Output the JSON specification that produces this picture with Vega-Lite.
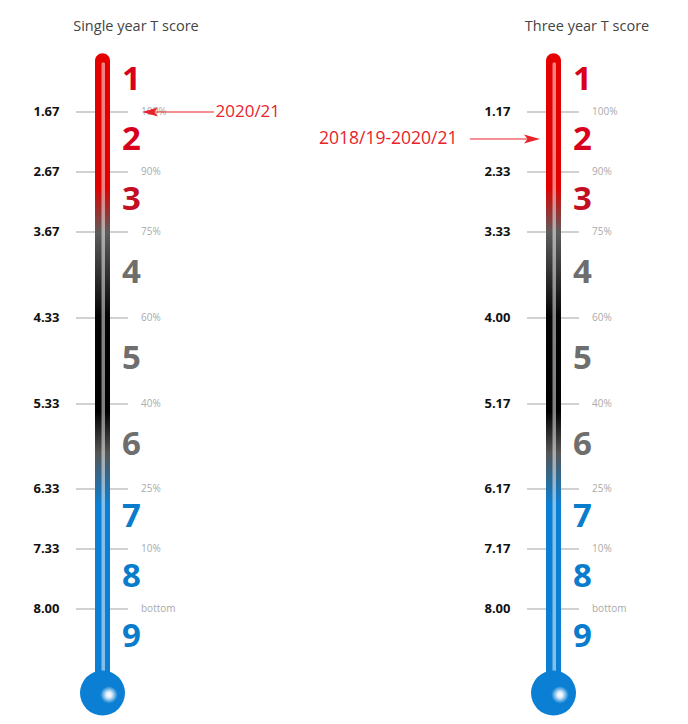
{
  "$schema": "https://vega.github.io/schema/vega-lite/v6.json",
  "padding": 0,
  "background": "white",
  "bounds": "flush",
  "config": {"view": {"stroke": null}, "font": "Open Sans"},
  "data": {"values": [
    {"panel": "single", "kind": "title", "label": "Single year T score"},
    {"panel": "three", "kind": "title", "label": "Three year T score"},
    {"panel": "single", "kind": "tube"},
    {"panel": "three", "kind": "tube"},
    {"panel": "single", "kind": "tick", "pos": 1.5, "score": "1.67", "pct": "100%"},
    {"panel": "single", "kind": "tick", "pos": 2.5, "score": "2.67", "pct": "90%"},
    {"panel": "single", "kind": "tick", "pos": 3.5, "score": "3.67", "pct": "75%"},
    {"panel": "single", "kind": "tick", "pos": 4.5, "score": "4.33", "pct": "60%"},
    {"panel": "single", "kind": "tick", "pos": 5.5, "score": "5.33", "pct": "40%"},
    {"panel": "single", "kind": "tick", "pos": 6.5, "score": "6.33", "pct": "25%"},
    {"panel": "single", "kind": "tick", "pos": 7.5, "score": "7.33", "pct": "10%"},
    {"panel": "single", "kind": "tick", "pos": 8.5, "score": "8.00", "pct": "bottom"},
    {"panel": "three", "kind": "tick", "pos": 1.5, "score": "1.17", "pct": "100%"},
    {"panel": "three", "kind": "tick", "pos": 2.5, "score": "2.33", "pct": "90%"},
    {"panel": "three", "kind": "tick", "pos": 3.5, "score": "3.33", "pct": "75%"},
    {"panel": "three", "kind": "tick", "pos": 4.5, "score": "4.00", "pct": "60%"},
    {"panel": "three", "kind": "tick", "pos": 5.5, "score": "5.17", "pct": "40%"},
    {"panel": "three", "kind": "tick", "pos": 6.5, "score": "6.17", "pct": "25%"},
    {"panel": "three", "kind": "tick", "pos": 7.5, "score": "7.17", "pct": "10%"},
    {"panel": "three", "kind": "tick", "pos": 8.5, "score": "8.00", "pct": "bottom"},
    {"panel": "single", "kind": "band", "stanine": 1},
    {"panel": "single", "kind": "band", "stanine": 2},
    {"panel": "single", "kind": "band", "stanine": 3},
    {"panel": "single", "kind": "band", "stanine": 4},
    {"panel": "single", "kind": "band", "stanine": 5},
    {"panel": "single", "kind": "band", "stanine": 6},
    {"panel": "single", "kind": "band", "stanine": 7},
    {"panel": "single", "kind": "band", "stanine": 8},
    {"panel": "single", "kind": "band", "stanine": 9},
    {"panel": "three", "kind": "band", "stanine": 1},
    {"panel": "three", "kind": "band", "stanine": 2},
    {"panel": "three", "kind": "band", "stanine": 3},
    {"panel": "three", "kind": "band", "stanine": 4},
    {"panel": "three", "kind": "band", "stanine": 5},
    {"panel": "three", "kind": "band", "stanine": 6},
    {"panel": "three", "kind": "band", "stanine": 7},
    {"panel": "three", "kind": "band", "stanine": 8},
    {"panel": "three", "kind": "band", "stanine": 9},
    {"panel": "single", "kind": "marker", "label": "2020/21", "pos": 1.5, "dir": "left"},
    {"panel": "three", "kind": "marker", "label": "2018/19-2020/21", "pos": 1.95, "dir": "right"}
  ]},
  "facet": {"column": {"field": "panel", "type": "nominal", "sort": ["single", "three"], "header": {"labels": false, "title": null, "labelPadding": 0, "titlePadding": 0}}},
  "spacing": {"column": 216},
  "spec": {
    "width": 235,
    "height": 724,
    "layer": [
      {
        "transform": [{"filter": "datum.kind === 'tick'"}],
        "mark": {"type": "rule", "color": "#a3a3a3", "strokeWidth": 1.2},
        "encoding": {
          "x": {"datum": -26.5, "type": "quantitative", "scale": {"domain": [-102.5, 132.5], "nice": false, "zero": false}, "axis": null},
          "x2": {"datum": 25.5},
          "y": {"field": "pos", "type": "quantitative", "scale": {"domain": [1.5, 2.5, 3.5, 4.5, 5.5, 6.5, 7.5, 8.5], "range": [112, 172, 232, 318, 404, 489, 549, 609], "nice": false, "zero": false}, "axis": null}
        }
      },
      {
        "transform": [{"filter": "datum.kind === 'tube'"}],
        "mark": {"type": "rect", "cornerRadius": 7.5, "fill": {"gradient": "linear", "x1": 0, "y1": 0, "x2": 0, "y2": 1, "stops": [
          {"offset": 0, "color": "#e50000"},
          {"offset": 0.21, "color": "#e00000"},
          {"offset": 0.28, "color": "#5c5c5c"},
          {"offset": 0.41, "color": "#050505"},
          {"offset": 0.56, "color": "#000000"},
          {"offset": 0.625, "color": "#555555"},
          {"offset": 0.705, "color": "#0b7fd3"},
          {"offset": 1, "color": "#0b7fd3"}
        ]}},
        "encoding": {
          "x": {"datum": -7.5, "type": "quantitative"},
          "x2": {"datum": 7.5},
          "y": {"datum": 0.52, "type": "quantitative"},
          "y2": {"datum": 9.9}
        }
      },
      {
        "transform": [{"filter": "datum.kind === 'tube'"}],
        "mark": {"type": "rect", "cornerRadius": 1.75, "fill": "white", "fillOpacity": 0.5},
        "encoding": {
          "x": {"datum": -1, "type": "quantitative"},
          "x2": {"datum": 2.5},
          "y": {"datum": 0.67, "type": "quantitative"},
          "y2": {"datum": 9.73}
        }
      },
      {
        "transform": [{"filter": "datum.kind === 'tube'"}],
        "mark": {"type": "point", "shape": "circle", "filled": true, "size": 2025, "fill": "#0b7fd3", "opacity": 1},
        "encoding": {
          "x": {"datum": 0, "type": "quantitative"},
          "y": {"datum": 9.9, "type": "quantitative"}
        }
      },
      {
        "transform": [{"filter": "datum.kind === 'tube'"}],
        "mark": {"type": "point", "shape": "circle", "filled": true, "size": 300, "opacity": 1, "fill": {"gradient": "radial", "x1": 0.5, "y1": 0.5, "r1": 0, "x2": 0.5, "y2": 0.5, "r2": 0.5, "stops": [
          {"offset": 0, "color": "#ffffff"},
          {"offset": 0.3, "color": "rgba(255,255,255,0.9)"},
          {"offset": 1, "color": "rgba(255,255,255,0)"}
        ]}},
        "encoding": {
          "x": {"datum": 6.5, "type": "quantitative"},
          "y": {"datum": 9.93, "type": "quantitative"}
        }
      },
      {
        "transform": [{"filter": "datum.kind === 'tick'"}],
        "mark": {"type": "text", "align": "right", "baseline": "middle", "fontSize": 13, "fontWeight": "bold", "color": "#111111"},
        "encoding": {
          "x": {"datum": -43, "type": "quantitative"},
          "y": {"field": "pos", "type": "quantitative"},
          "text": {"field": "score"}
        }
      },
      {
        "transform": [{"filter": "datum.kind === 'tick'"}],
        "mark": {"type": "text", "align": "left", "baseline": "middle", "fontSize": 10, "color": "#aaaaaa"},
        "encoding": {
          "x": {"datum": 38.5, "type": "quantitative"},
          "y": {"field": "pos", "type": "quantitative"},
          "text": {"field": "pct"}
        }
      },
      {
        "transform": [{"filter": "datum.kind === 'band'"}],
        "mark": {"type": "text", "align": "center", "baseline": "middle", "fontSize": 33, "fontWeight": "bold", "dy": -2},
        "encoding": {
          "x": {"datum": 29, "type": "quantitative"},
          "y": {"field": "stanine", "type": "quantitative"},
          "text": {"field": "stanine"},
          "color": {"field": "stanine", "type": "ordinal", "scale": {"domain": [1, 2, 3, 4, 5, 6, 7, 8, 9], "range": ["#d9001b", "#d9001b", "#c30f23", "#6e6e6e", "#6e6e6e", "#6e6e6e", "#0a7ccc", "#0a7ccc", "#0a7ccc"]}, "legend": null}
        }
      },
      {
        "transform": [{"filter": "datum.kind === 'title'"}],
        "mark": {"type": "text", "align": "center", "baseline": "middle", "fontSize": 14.5, "color": "#444444"},
        "encoding": {
          "x": {"datum": 33.5, "type": "quantitative"},
          "y": {"datum": 0.083, "type": "quantitative"},
          "text": {"field": "label"}
        }
      },
      {
        "transform": [{"filter": "datum.kind === 'marker' && datum.dir === 'left'"}],
        "mark": {"type": "rule", "color": "#e8232b", "strokeWidth": 1.2},
        "encoding": {
          "x": {"datum": 47, "type": "quantitative"},
          "x2": {"datum": 111.5},
          "y": {"field": "pos", "type": "quantitative"}
        }
      },
      {
        "transform": [{"filter": "datum.kind === 'marker' && datum.dir === 'right'"}],
        "mark": {"type": "rule", "color": "#e8232b", "strokeWidth": 1.2},
        "encoding": {
          "x": {"datum": -83.5, "type": "quantitative"},
          "x2": {"datum": -22},
          "y": {"field": "pos", "type": "quantitative"}
        }
      },
      {
        "transform": [{"filter": "datum.kind === 'marker' && datum.dir === 'left'"}],
        "mark": {"type": "point", "filled": true, "size": 256, "opacity": 1, "color": "#e8232b", "shape": "M-1,0L1,-0.55L0.55,0L1,0.55Z"},
        "encoding": {
          "x": {"datum": 47.5, "type": "quantitative"},
          "y": {"field": "pos", "type": "quantitative"}
        }
      },
      {
        "transform": [{"filter": "datum.kind === 'marker' && datum.dir === 'right'"}],
        "mark": {"type": "point", "filled": true, "size": 256, "opacity": 1, "color": "#e8232b", "shape": "M1,0L-1,-0.55L-0.55,0L-1,0.55Z"},
        "encoding": {
          "x": {"datum": -21.5, "type": "quantitative"},
          "y": {"field": "pos", "type": "quantitative"}
        }
      },
      {
        "transform": [{"filter": "datum.kind === 'marker' && datum.dir === 'left'"}],
        "mark": {"type": "text", "align": "left", "baseline": "middle", "fontSize": 17, "color": "#e8232b"},
        "encoding": {
          "x": {"datum": 113, "type": "quantitative"},
          "y": {"field": "pos", "type": "quantitative"},
          "text": {"field": "label"}
        }
      },
      {
        "transform": [{"filter": "datum.kind === 'marker' && datum.dir === 'right'"}],
        "mark": {"type": "text", "align": "right", "baseline": "middle", "fontSize": 17.5, "color": "#e8232b"},
        "encoding": {
          "x": {"datum": -96, "type": "quantitative"},
          "y": {"field": "pos", "type": "quantitative"},
          "text": {"field": "label"}
        }
      }
    ]
  }
}
